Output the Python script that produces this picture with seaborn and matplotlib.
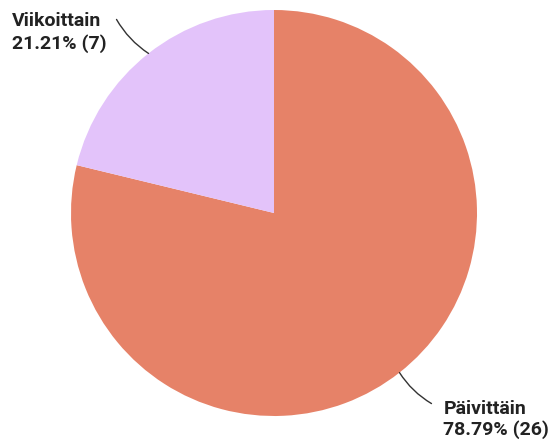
import numpy as np
import matplotlib
matplotlib.use("Agg")
import matplotlib.pyplot as plt
import seaborn as sns

categories = ["Päivittäin", "Viikoittain"]
counts = [26, 7]
colors = ["#E68268", "#E3C3FA"]

sns.set_theme(style="white")
plt.rcParams['font.family'] = ['Roboto', 'DejaVu Sans']

fig = plt.figure(figsize=(5.51, 4.40), dpi=100)
ax = fig.add_axes([0, 0, 1, 1])

cx, cy, R = 274, 227, 203
wedges, _ = ax.pie(counts, colors=colors, startangle=90, counterclock=False,
                   center=(cx, cy), radius=R, frame=True,
                   wedgeprops=dict(linewidth=0))
ax.set_xlim(0, 551)
ax.set_ylim(0, 440)
ax.set_aspect('equal')
ax.axis('off')

total = sum(counts)
FS = 14
layout = {
    "Viikoittain": dict(end=(-32, 34)),
    "Päivittäin": dict(end=(32, -31)),
}
for w, cat, n in zip(wedges, categories, counts):
    mid = np.deg2rad((w.theta1 + w.theta2) / 2)
    ex, ey = cx + R * np.cos(mid), cy + R * np.sin(mid)
    lay = layout[cat]
    lx, ly = ex + lay["end"][0], ey + lay["end"][1]
    ax.annotate("", xy=(ex, ey), xytext=(lx, ly),
                arrowprops=dict(arrowstyle="-", color="#333333", lw=1.0,
                                connectionstyle="arc3,rad=0.12" if cat == "Viikoittain" else "arc3,rad=-0.12",
                                shrinkA=0, shrinkB=0))
    pct = n / total * 100
    if cat == "Viikoittain":
        tx, ty, gap = 12, ly - 2, 22
    else:
        tx, ty, gap = lx + 12, ly - 5, 21
    ax.text(tx, ty, cat, ha="left", va="center", fontsize=FS,
            fontweight="bold", color="#222222")
    ax.text(tx, ty - gap, f"{pct:.2f}% ({n})", ha="left", va="center",
            fontsize=FS, fontweight="bold", color="#222222")

fig.savefig("out.png", dpi=100, facecolor="white")
